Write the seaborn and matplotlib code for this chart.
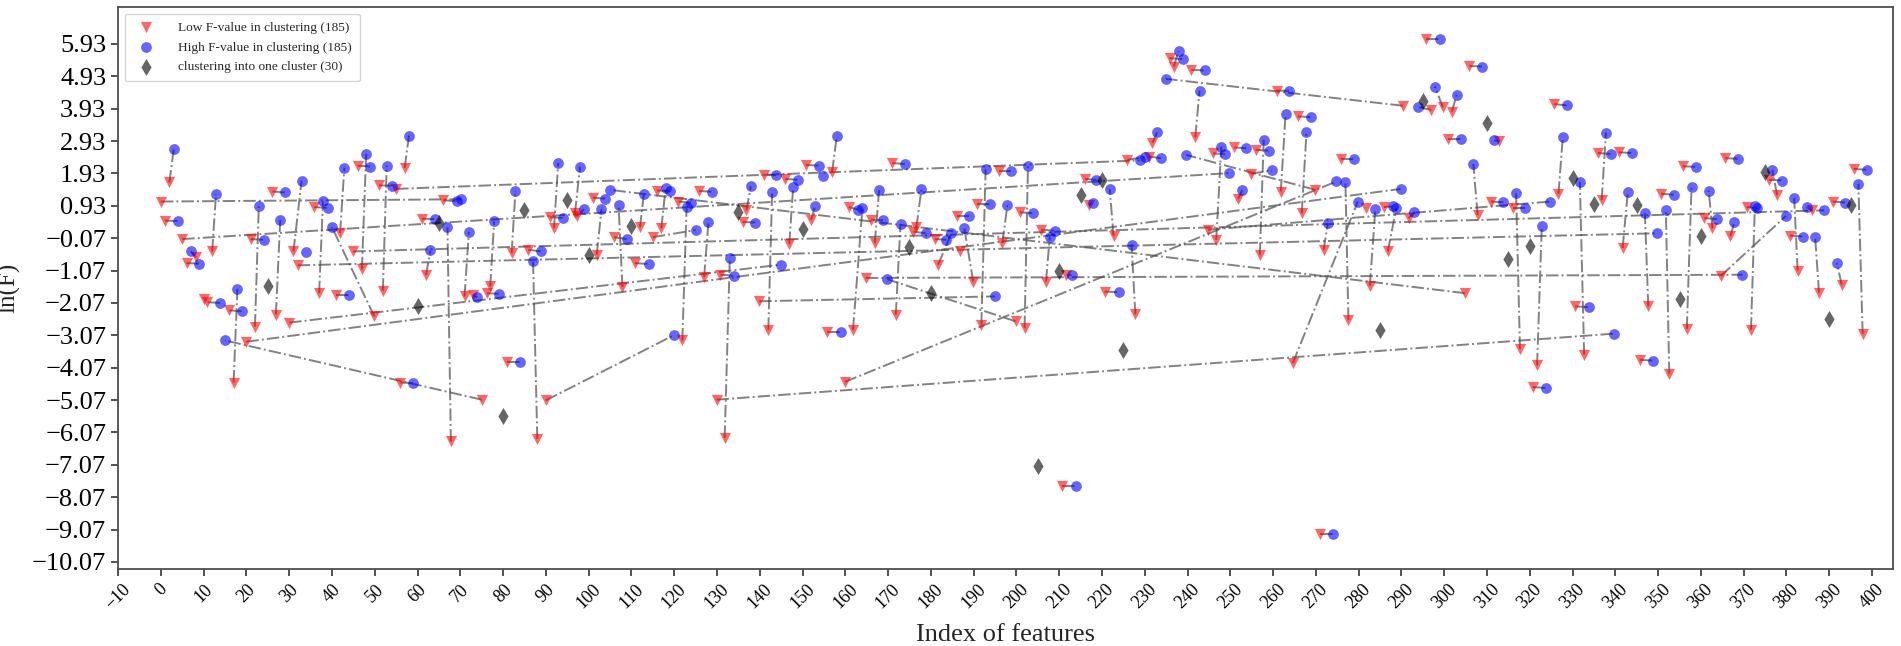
import matplotlib
matplotlib.use("Agg")
import matplotlib.pyplot as plt
import pandas as pd
import seaborn as sns

# each pair: a red "low F" point linked by a dash-dot line to its blue "high F" point
low_x = [2.0, 1.0, 0.0, 5.0, 8.2, 6.0, 12.0, 10.9, 17.0, 16.0,
         22.0, 21.0, 26.9, 26.1, 31.0, 32.0, 30.0, 35.9, 37.0, 41.9,
         49.9, 46.0, 47.0, 45.0, 41.0, 51.9, 51.0, 55.0, 57.0, 61.0,
         67.8, 66.0, 62.0, 71.0, 72.9, 76.2, 77.0, 20.0, 75.0, 56.0,
         82.0, 91.9, 91.0, 96.8, 97.3, 101.0, 101.9, 106.0, 107.9, 304.8,
         112.0, 116.0, 117.0, 121.0, 121.9, 115.0, 125.8, 127.0, 130.8, 131.8,
         136.9, 136.0, 142.0, 141.0, 145.9, 146.9, 150.8, 156.9, 152.0, 171.0,
         160.8, 161.8, 166.9, 166.0, 171.8, 176.6, 175.9, 181.0, 181.7, 189.9,
         186.0, 190.8, 88.0, 85.9, 110.8, 81.0, 90.0, 129.9, 139.9, 155.8,
         164.8, 199.8, 159.9, 191.8, 196.0, 201.9, 196.7, 200.8, 205.8, 206.9,
         211.7, 220.6, 210.7, 216.0, 217.0, 222.7, 227.8, 225.9, 230.9, 231.8,
         269.9, 235.8, 236.8, 240.9, 290.3, 260.8, 241.8, 246.0, 246.7, 250.9,
         255.9, 256.9, 254.8, 251.8, 244.8, 261.8, 265.8, 266.7, 275.8, 271.8,
         264.6, 277.6, 282.6, 285.9, 286.8, 291.7, 271.0, 297.0, 299.7, 301.8,
         295.8, 300.9, 305.9, 312.7, 307.8, 310.9, 316.0, 317.7, 321.7, 325.7,
         326.7, 332.7, 336.8, 335.9, 340.8, 341.7, 347.7, 352.6, 350.7, 355.7,
         356.7, 362.7, 360.8, 366.9, 365.7, 370.7, 371.7, 375.9, 377.8, 382.6,
         364.7, 385.9, 380.8, 387.6, 390.8, 395.7, 397.8, 392.9, 330.6, 345.7,
         320.7]
low_y = [1.65, 0.47, 1.06, -0.10, -0.66, -0.84, -0.48, -2.05, -4.53, -2.30,
         -2.80, -0.10, -2.43, 1.37, -0.48, -0.91, -2.68, 0.89, -1.77, 0.09,
         -2.49, 2.17, -1.03, -0.48, -1.82, -1.69, 1.56, 1.45, 2.10, 0.53,
         -6.35, 1.10, -1.20, -1.87, -1.82, -1.77, -1.56, -3.27, -5.06, -4.53,
         -0.53, 0.24, 0.58, 0.70, 0.60, 1.18, -0.58, -0.04, -1.58, -1.77,
         0.26, 1.40, 0.24, 1.06, -3.23, -0.04, 1.39, -1.27, -1.20, -6.24,
         0.79, 0.43, -2.90, 1.89, 1.76, -0.25, 2.19, 1.97, 0.50, 2.25,
         0.89, -2.90, -0.22, 0.50, -2.43, 0.26, 0.13, -0.10, -0.89, -1.41,
         0.60, 0.99, -6.27, -0.43, -0.84, -3.91, -5.08, -5.06, -2.02, -2.98,
         -1.30, -2.64, -4.51, -2.74, 1.99, -2.85, -0.22, 0.73, 0.19, -1.41,
         -1.20, -1.72, -7.73, 1.76, 0.96, 0.00, -2.42, 2.35, 2.45, 2.88,
         1.42, 5.49, 5.23, 5.13, 4.02, 4.49, 3.05, 2.55, -0.12, 2.73,
         2.66, -0.58, 1.92, 1.14, 0.19, 1.37, 3.69, 0.70, 2.38, -0.43,
         -3.93, -2.59, -1.54, 0.89, -0.48, 0.55, -9.20, 3.89, 3.97, 3.84,
         6.07, 2.99, 5.25, 2.92, 0.65, 1.06, 0.86, -3.49, -4.00, 4.07,
         1.30, -3.67, 1.11, 2.56, 2.58, -0.37, -2.18, -4.27, 1.30, 2.15,
         -2.87, 0.24, 0.55, -0.01, 2.40, 0.89, -2.90, 1.73, 1.26, -1.07,
         -1.23, 0.79, 0.01, -1.75, 1.06, 2.07, -3.02, -1.51, -2.18, -3.83,
         -4.67]
high_x = [3.0, 4.0, 70.2, 249.8, 7.0, 9.0, 12.9, 13.9, 17.9, 18.9,
          22.9, 24.0, 27.9, 29.1, 32.9, 349.7, 144.9, 39.0, 37.9, 42.9,
          40.0, 48.9, 48.0, 388.8, 44.0, 52.8, 54.0, 228.8, 58.0, 64.0,
          67.0, 69.2, 63.0, 72.0, 74.0, 79.0, 77.9, 289.8, 15.0, 59.0,
          82.9, 92.9, 94.0, 98.0, 98.9, 103.8, 103.0, 108.9, 107.0, 105.0,
          112.9, 119.0, 118.0, 123.9, 122.9, 125.0, 128.9, 128.0, 134.0, 133.0,
          137.9, 138.9, 142.9, 143.8, 149.0, 147.8, 153.8, 158.0, 152.9, 173.9,
          163.0, 164.0, 167.9, 168.8, 172.9, 177.8, 178.8, 183.6, 184.8, 187.8,
          188.9, 193.8, 87.0, 88.9, 114.0, 84.0, 119.9, 339.7, 195.0, 158.9,
          369.7, 169.8, 274.8, 192.8, 198.8, 202.7, 197.9, 203.9, 209.0, 207.8,
          212.9, 223.9, 213.9, 218.7, 217.8, 221.8, 226.9, 230.0, 233.9, 232.9,
          239.7, 238.9, 237.9, 244.0, 234.9, 263.7, 242.8, 248.8, 247.9, 253.7,
          259.0, 257.8, 259.7, 252.8, 324.8, 262.9, 268.8, 267.8, 278.8, 272.8,
          279.8, 276.9, 283.9, 288.0, 288.8, 292.9, 274.0, 293.9, 297.8, 302.9,
          298.9, 303.8, 308.8, 311.7, 306.8, 313.8, 318.9, 316.8, 322.8, 328.8,
          327.7, 331.7, 337.8, 338.9, 343.8, 342.9, 346.9, 351.8, 353.8, 358.8,
          357.8, 361.8, 363.7, 367.8, 368.7, 373.2, 372.6, 378.9, 376.7, 381.8,
          379.9, 384.7, 383.8, 386.7, 393.7, 398.9, 396.8, 391.8, 333.8, 348.7,
          323.8]
high_y = [2.67, 0.46, 1.13, 1.94, -0.48, -0.86, 1.29, -2.07, -1.64, -2.33,
          0.91, -0.12, 0.48, 1.34, 1.70, 0.08, -0.89, 0.86, 1.07, 2.11,
          0.27, 2.14, 2.53, 0.79, -1.82, 2.17, 1.55, 2.33, 3.10, 0.52,
          0.26, 1.07, -0.45, 0.12, -1.90, -1.79, 0.45, 1.45, -3.23, -4.55,
          1.39, 2.25, 0.55, 2.14, 0.83, 1.15, 0.83, -0.10, 0.94, 1.42,
          1.29, 1.39, 1.48, 1.03, 0.88, 0.18, 1.36, 0.42, -1.23, -0.68,
          1.53, 0.41, 1.35, 1.87, 1.73, 1.50, 2.17, 3.07, 0.91, 2.22,
          0.81, 0.86, 1.42, 0.48, 0.37, 1.45, 0.08, -0.12, 0.08, 0.24,
          0.60, 0.99, -0.77, -0.48, -0.87, -3.91, -3.07, -3.02, -1.87, -2.98,
          -1.20, -1.34, 1.68, 2.06, 1.99, 2.16, 0.96, 0.70, 0.16, -0.02,
          -1.22, -1.74, -7.73, 1.73, 1.01, 1.45, -0.27, 2.43, 2.40, 3.20,
          2.50, 5.46, 5.71, 5.11, 4.85, 4.48, 4.49, 2.52, 2.76, 2.71,
          2.63, 2.97, 2.02, 1.42, 1.06, 3.76, 3.67, 3.22, 2.37, 0.39,
          1.06, 1.65, 0.83, 0.91, 0.86, 0.73, -9.20, 3.98, 4.61, 4.36,
          6.07, 2.99, 5.23, 2.95, 2.22, 1.04, 0.86, 1.32, 0.29, 4.03,
          3.04, 1.67, 3.19, 2.53, 2.56, 1.35, 0.70, 0.79, 1.27, 2.13,
          1.51, 1.40, 0.52, 0.42, 2.38, 0.86, 0.91, 1.71, 2.04, 1.17,
          0.62, 0.89, -0.02, -0.04, 1.03, 2.04, 1.61, -0.84, -2.20, -3.85,
          -4.70]

# points seen without a visible partner
extra_low_x = [10.0, 186.7, 281.8]
extra_low_y = [-1.95, -0.48, 0.86]
extra_high_x = [34.0, 154.8]
extra_high_y = [-0.50, 1.85]

# features that fall into a single cluster
one_x = [25.0, 60.0, 65.0, 80.0, 85.0, 95.0, 100.0, 110.0, 135.0, 150.0,
         175.0, 180.0, 205.0, 210.0, 215.0, 220.0, 225.0, 285.0, 295.0, 310.0,
         315.0, 320.0, 330.0, 335.0, 345.0, 355.0, 360.0, 375.0, 390.0, 395.0]
one_y = [-1.54, -2.18, 0.41, -5.57, 0.79, 1.11, -0.58, 0.31, 0.73, 0.21,
         -0.35, -1.77, -7.12, -1.07, 1.27, 1.73, -3.54, -2.90, 4.18, 3.48,
         -0.72, -0.30, 1.78, 0.99, 0.94, -1.95, 0.00, 1.97, -2.56, 0.94]

x_ticks = list(range(-10, 401, 10))
y_ticks = [-10.07, -9.07, -8.07, -7.07, -6.07, -5.07, -4.07, -3.07, -2.07, -1.07,
           -0.07, 0.93, 1.93, 2.93, 3.93, 4.93, 5.93]

sns.set_theme(style="ticks")
plt.rcParams["font.family"] = ["Liberation Serif", "DejaVu Serif"]

fig = plt.figure(figsize=(19.01, 6.46), dpi=100)
ax = fig.add_axes([0.0621, 0.1192, 0.9337, 0.870])

for xr, yr, xb, yb in zip(low_x, low_y, high_x, high_y):
    ax.plot([xr, xb], [yr, yb], linestyle="-.", color="0.3", linewidth=1.4,
            alpha=0.7, zorder=1)

low_df = pd.DataFrame({"x": low_x + extra_low_x, "y": low_y + extra_low_y})
high_df = pd.DataFrame({"x": high_x + extra_high_x, "y": high_y + extra_high_y})
one_df = pd.DataFrame({"x": one_x, "y": one_y})

sns.scatterplot(data=low_df, x="x", y="y", marker="v", color="red", alpha=0.6,
                s=65, linewidth=0, ax=ax, zorder=2,
                label="Low F-value in clustering (185)")
sns.scatterplot(data=high_df, x="x", y="y", marker="o", color="blue", alpha=0.6,
                s=60, linewidth=0, ax=ax, zorder=2,
                label="High F-value in clustering (185)")
sns.scatterplot(data=one_df, x="x", y="y", marker="d", color="black", alpha=0.6,
                s=75, linewidth=0, ax=ax, zorder=2,
                label="clustering into one cluster (30)")

ax.set_xlim(-10, 404.9)
ax.set_ylim(-10.29, 7.07)
ax.set_xticks(x_ticks)
ax.set_xticklabels([str(t).replace("-", "\u2212") for t in x_ticks],
                   rotation=45, fontsize=13)
ax.set_yticks(y_ticks)
ax.set_yticklabels([f"{t:.2f}".replace("-", "\u2212") for t in y_ticks],
                   fontsize=19)
ax.tick_params(axis="both", direction="out", length=5, width=1.2, colors="0.2")
for lab in ax.get_xticklabels() + ax.get_yticklabels():
    lab.set_color("black")
for sp in ax.spines.values():
    sp.set_visible(True)
    sp.set_color("0.3")
    sp.set_linewidth(1.3)

ax.set_xlabel("Index of features", fontsize=19)
ax.set_ylabel("ln(F)", fontsize=18)
ax.xaxis.set_label_coords(0.4997, -0.098)
ax.yaxis.set_label_coords(-0.0548, 0.50)

ax.legend(loc="upper left", fontsize=9.6, frameon=True, borderpad=0.6,
          handletextpad=1.4, labelspacing=0.55)

fig.savefig("out.png", dpi=100)
